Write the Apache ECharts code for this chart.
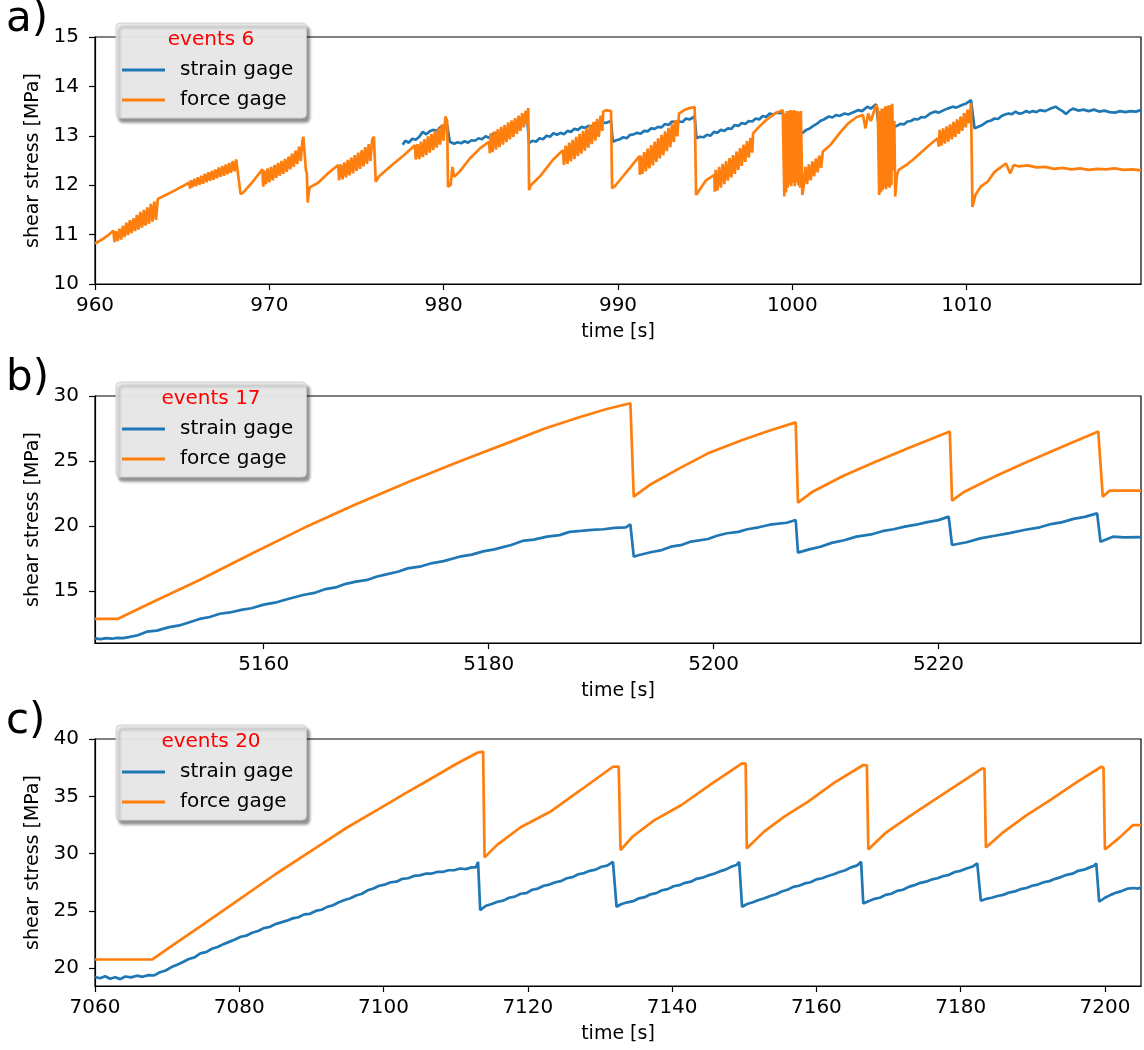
<!DOCTYPE html>
<html>
<head>
<meta charset="utf-8">
<title>shear stress</title>
<script src="https://cdn.jsdelivr.net/npm/echarts@6/dist/echarts.min.js"></script>
<style>
  html, body { margin: 0; padding: 0; background: #fff; }
  #chart { width: 1144px; height: 1050px; }
</style>
</head>
<body>
<div id="chart"></div>
<script>
// ---- panel a: time [s], shear stress [MPa] ----
const strainA = [
  [977.65,12.82],[977.8,12.9],[978.0,12.86],[978.2,12.94],[978.4,12.92],[978.6,12.98],[978.8,13.08],[979.0,13.03],[979.2,13.09],[979.4,13.12],[979.6,13.1],[979.8,13.17],[980.0,13.2],[980.2,13.22],
  [980.35,12.88],[980.6,12.84],[980.8,12.87],[981.0,12.85],[981.2,12.89],[981.4,12.86],[981.6,12.91],[981.8,12.9],[982.0,12.95],[982.2,12.93],[982.4,12.99],[982.6,12.96],[982.8,13.03],[983.0,13.05],
  [983.2,13.04],[983.4,13.1],[983.6,13.09],[983.8,13.15],[984.0,13.14],[984.2,13.2],[984.4,13.22],[984.6,13.27],[984.8,13.3],
  [984.9,12.85],[985.1,12.9],[985.3,12.88],[985.5,12.95],[985.7,12.93],[985.9,13.0],[986.1,12.98],[986.3,13.05],[986.5,13.02],[986.7,13.06],[986.9,13.03],[987.1,13.1],[987.3,13.08],[987.5,13.14],
  [987.7,13.12],[987.9,13.18],[988.1,13.16],[988.3,13.2],[988.5,13.19],[988.7,13.25],[988.9,13.22],[989.1,13.27],[989.3,13.26],[989.6,13.3],
  [989.7,12.88],[989.9,12.91],[990.1,12.93],[990.3,12.97],[990.5,12.95],[990.7,13.02],[990.9,13.03],[991.1,13.06],[991.3,13.04],[991.5,13.1],[991.7,13.09],[991.9,13.15],[992.1,13.14],[992.3,13.18],
  [992.5,13.17],[992.7,13.24],[992.9,13.22],[993.1,13.29],[993.3,13.27],[993.5,13.29],[993.7,13.28],[993.9,13.35],[994.1,13.33],[994.4,13.39],
  [994.5,12.95],[994.7,12.98],[994.9,12.97],[995.1,13.02],[995.3,13.0],[995.5,13.08],[995.7,13.06],[995.9,13.12],[996.1,13.1],[996.3,13.15],[996.5,13.14],[996.7,13.22],[996.9,13.2],[997.1,13.26],
  [997.3,13.24],[997.5,13.3],[997.7,13.29],[997.9,13.35],[998.1,13.33],[998.3,13.4],[998.5,13.38],[998.7,13.45],[998.9,13.43],[999.1,13.47],[999.3,13.46],[999.45,13.49],
  [999.6,13.02],[999.8,13.0],[1000.0,13.03],[1000.2,13.01],[1000.4,13.08],[1000.6,13.06],[1000.8,13.12],[1001.0,13.15],[1001.2,13.2],[1001.4,13.24],[1001.6,13.3],[1001.8,13.33],[1002.1,13.39],
  [1002.3,13.37],[1002.5,13.42],[1002.7,13.4],[1003.0,13.45],[1003.2,13.43],[1003.4,13.46],[1003.6,13.49],[1003.8,13.52],[1004.0,13.5],[1004.3,13.59],[1004.5,13.55],[1004.6,13.57],[1004.8,13.64],
  [1005.0,13.05],[1005.2,13.1],[1005.4,13.13],[1005.6,13.15],[1005.8,13.19],[1006.0,13.2],[1006.2,13.24],[1006.4,13.23],[1006.6,13.29],[1006.8,13.3],[1007.0,13.34],[1007.2,13.33],[1007.4,13.38],
  [1007.6,13.37],[1007.9,13.45],[1008.2,13.49],[1008.4,13.47],[1008.7,13.52],[1008.9,13.55],[1009.2,13.59],[1009.4,13.57],[1009.7,13.62],[1010.0,13.66],[1010.25,13.72],
  [1010.45,13.15],[1010.7,13.19],[1010.9,13.22],[1011.2,13.29],[1011.4,13.31],[1011.6,13.35],[1011.8,13.34],[1012.0,13.4],[1012.2,13.43],[1012.4,13.45],[1012.6,13.44],[1012.8,13.49],[1013.0,13.45],
  [1013.2,13.46],[1013.4,13.5],[1013.6,13.47],[1013.8,13.5],[1014.0,13.48],[1014.2,13.52],[1014.5,13.5],[1014.8,13.55],[1015.1,13.59],[1015.3,13.54],[1015.5,13.5],[1015.7,13.44],[1015.9,13.51],
  [1016.1,13.55],[1016.4,13.51],[1016.7,13.53],[1017.0,13.5],[1017.3,13.53],[1017.6,13.49],[1017.9,13.51],[1018.2,13.48],[1018.5,13.47],[1018.8,13.5],[1019.1,13.48],[1019.4,13.5],[1019.7,13.49],[1020,13.52]
];
const forceA = [
  [960,10.82],[960.4,10.9],[960.8,11.0],[961.05,11.08],[961.12,10.85],
  [961.2,11.07],[961.3,10.87],[961.4,11.12],[961.5,10.9],[961.6,11.18],[961.7,10.95],[961.8,11.24],[961.9,10.99],[962.0,11.29],[962.1,11.03],[962.2,11.33],[962.3,11.07],
  [962.4,11.4],[962.5,11.1],[962.6,11.46],[962.7,11.14],[962.8,11.5],[962.9,11.18],[963.0,11.55],[963.1,11.22],[963.2,11.62],[963.3,11.26],[963.4,11.67],[963.5,11.3],[963.6,11.72],
  [963.7,11.72],[964.5,11.88],[965.4,12.05],[965.45,11.93],
  [965.5,12.1],[965.6,11.96],[965.7,12.13],[965.8,11.98],[965.9,12.16],[966.0,12.01],[966.1,12.19],[966.2,12.03],[966.3,12.23],[966.4,12.06],[966.5,12.26],[966.6,12.09],[966.7,12.29],
  [966.8,12.11],[966.9,12.32],[967.0,12.14],[967.1,12.36],[967.2,12.17],[967.3,12.39],[967.4,12.19],[967.5,12.42],[967.6,12.22],[967.7,12.45],[967.8,12.25],[967.9,12.49],[968.0,12.28],
  [968.1,12.52],[968.2,12.48],
  [968.35,11.82],[968.5,11.85],[969.0,12.05],[969.6,12.32],[969.65,11.97],
  [969.7,12.3],[969.8,12.02],[969.9,12.34],[970.0,12.06],[970.1,12.37],[970.2,12.1],[970.3,12.41],[970.4,12.15],[970.5,12.45],[970.6,12.19],[970.7,12.49],[970.8,12.23],
  [970.9,12.53],[971.0,12.27],[971.1,12.58],[971.2,12.32],[971.3,12.64],[971.4,12.37],[971.5,12.7],[971.6,12.43],[971.7,12.78],[971.8,12.49],[971.9,12.9],[971.95,12.98],
  [972.1,12.3],[972.15,12.25],[972.2,11.65],[972.3,11.95],[972.8,12.05],[973.4,12.25],[973.95,12.41],[974.0,12.1],
  [974.1,12.42],[974.2,12.12],[974.3,12.46],[974.4,12.16],[974.5,12.51],[974.6,12.2],[974.7,12.56],[974.8,12.24],[974.9,12.61],[975.0,12.29],[975.1,12.66],[975.2,12.33],
  [975.3,12.71],[975.4,12.38],[975.5,12.77],[975.6,12.43],[975.7,12.83],[975.8,12.49],[975.9,12.92],[976.0,12.98],
  [976.1,12.07],[976.3,12.18],[977.0,12.4],[977.7,12.6],[978.35,12.81],[978.4,12.52],
  [978.5,12.83],[978.6,12.53],[978.7,12.88],[978.8,12.57],[978.9,12.93],[979.0,12.61],[979.1,12.99],[979.2,12.66],[979.3,13.04],[979.4,12.71],[979.5,13.1],[979.6,12.76],
  [979.7,13.16],[979.8,12.82],[979.9,13.23],[980.0,12.9],[980.1,13.39],[980.2,13.3],
  [980.25,11.97],[980.4,12.0],[980.5,12.37],[980.6,12.17],[980.9,12.27],[981.5,12.54],[982.1,12.75],[982.6,12.88],[982.65,12.65],
  [982.7,13.05],[982.8,12.67],[982.9,13.09],[983.0,12.72],[983.1,13.13],[983.2,12.77],[983.3,13.18],[983.4,12.82],[983.5,13.22],[983.6,12.87],[983.7,13.27],[983.8,12.93],
  [983.9,13.31],[984.0,12.98],[984.1,13.36],[984.2,13.04],[984.3,13.41],[984.4,13.1],[984.5,13.46],[984.6,13.17],[984.7,13.51],[984.8,13.25],[984.85,13.56],
  [984.9,11.9],[985.0,12.0],[985.5,12.17],[986.26,12.51],[986.84,12.71],[986.9,12.41],
  [987.0,12.8],[987.1,12.43],[987.2,12.86],[987.3,12.48],[987.4,12.92],[987.5,12.53],[987.6,12.98],[987.7,12.59],[987.8,13.04],[987.9,12.64],[988.0,13.1],[988.1,12.7],
  [988.2,13.16],[988.3,12.76],[988.4,13.22],[988.5,12.83],[988.6,13.28],[988.7,12.9],[988.8,13.34],[988.9,12.98],[989.0,13.41],[989.1,13.1],[989.15,13.49],[989.3,13.52],[989.6,13.5],
  [989.66,11.94],[989.8,11.97],[990.1,12.1],[990.66,12.34],[991.23,12.59],[991.25,12.21],
  [991.3,12.6],[991.4,12.23],[991.5,12.67],[991.6,12.28],[991.7,12.74],[991.8,12.34],[991.9,12.81],[992.0,12.4],[992.1,12.88],[992.2,12.47],[992.3,12.95],[992.4,12.54],
  [992.5,13.02],[992.6,12.61],[992.7,13.09],[992.8,12.69],[992.9,13.16],[993.0,12.77],[993.1,13.24],[993.2,12.87],[993.3,13.32],[993.4,12.99],[993.5,13.45],
  [993.8,13.52],[994.1,13.56],[994.4,13.58],
  [994.48,11.8],[994.57,11.84],[995.05,12.1],[995.53,12.21],[995.55,11.87],
  [995.6,12.31],[995.7,11.89],[995.8,12.37],[995.9,11.95],[996.0,12.43],[996.1,12.02],[996.2,12.49],[996.3,12.09],[996.4,12.55],[996.5,12.16],[996.6,12.61],[996.7,12.23],
  [996.8,12.68],[996.9,12.31],[997.0,12.75],[997.1,12.39],[997.2,12.82],[997.3,12.47],[997.4,12.89],[997.5,12.56],[997.6,12.96],[997.7,12.66],[997.75,13.05],
  [998.0,13.15],[998.5,13.32],[999.0,13.45],[999.45,13.52],
  [999.54,11.77],[999.59,13.45],[999.64,11.85],[999.69,13.5],[999.74,11.95],[999.79,13.5],[999.84,12.02],[999.89,13.52],[999.94,11.98],[999.99,13.5],[1000.04,12.05],[1000.09,13.52],
  [1000.14,11.98],[1000.19,13.5],[1000.24,12.06],[1000.29,13.5],[1000.34,12.0],[1000.39,13.48],[1000.44,11.95],[1000.49,13.5],[1000.57,11.8],
  [1000.65,11.97],[1000.75,12.37],[1000.85,12.02],[1000.95,12.42],[1001.05,12.1],[1001.15,12.48],[1001.25,12.18],[1001.35,12.54],[1001.45,12.26],[1001.55,12.6],[1001.65,12.35],[1001.75,12.68],[1001.85,12.65],
  [1002.2,12.82],[1002.7,13.05],[1003.2,13.25],[1003.7,13.38],[1004.05,13.42],
  [1004.2,13.15],[1004.35,13.45],[1004.5,13.3],[1004.8,13.62],[1004.9,13.55],
  [1004.98,11.8],[1005.03,13.5],[1005.08,11.85],[1005.13,13.55],[1005.18,11.9],[1005.23,13.55],[1005.28,11.95],[1005.33,13.6],[1005.38,11.92],[1005.43,13.6],[1005.48,11.98],
  [1005.53,13.62],[1005.58,11.95],[1005.63,13.62],[1005.68,12.0],[1005.73,13.65],[1005.8,12.3],[1005.85,13.3],[1005.9,11.77],
  [1006.0,12.2],[1006.1,12.31],[1006.5,12.4],[1006.9,12.51],[1007.85,12.81],[1008.33,12.95],[1008.4,12.78],
  [1008.45,13.12],[1008.55,12.8],[1008.65,13.15],[1008.75,12.84],[1008.85,13.19],[1008.95,12.88],[1009.05,13.23],[1009.15,12.93],[1009.25,13.28],[1009.35,12.98],
  [1009.45,13.33],[1009.55,13.04],[1009.65,13.39],[1009.75,13.1],[1009.85,13.46],[1009.95,13.17],[1010.05,13.53],[1010.15,13.25],[1010.25,13.66],
  [1010.33,11.56],[1010.5,11.8],[1010.8,11.97],[1011.2,12.07],[1011.6,12.27],[1012.25,12.44],[1012.5,12.24],[1012.7,12.41],[1013.0,12.38],[1013.5,12.4],[1014.0,12.36],[1014.5,12.37],
  [1015.0,12.33],[1015.5,12.35],[1016.0,12.32],[1016.5,12.34],[1017.0,12.31],[1017.5,12.33],[1018.0,12.32],[1018.5,12.34],[1019.0,12.31],[1019.5,12.32],[1020,12.3]
];

// ---- panel b ----
const strainB = [
  [5145,11.36],[5145.5,11.3],[5146,11.38],[5146.5,11.33],[5147,11.4],[5147.5,11.37],[5148,11.45],[5148.8,11.6],[5149.6,11.87],[5150.5,11.95],[5151.5,12.2],[5152.5,12.35],[5153.4,12.6],[5154.3,12.85],
  [5155.2,13.0],[5156.1,13.25],[5157,13.35],[5158,13.55],[5158.9,13.67],[5160,13.95],[5161,14.1],[5162,14.35],[5163.5,14.69],[5164.5,14.85],[5165.5,15.15],[5166.5,15.3],[5167.3,15.55],[5168.2,15.72],
  [5169.2,15.85],[5170,16.1],[5171,16.3],[5172,16.5],[5172.8,16.74],[5174,16.9],[5175,17.15],[5176,17.3],[5177.4,17.64],[5178.5,17.8],[5179.5,18.05],[5180.5,18.2],[5182,18.54],[5183,18.85],
  [5184,18.95],[5185.2,19.18],[5186.3,19.3],[5187.2,19.55],[5188.2,19.62],[5189.2,19.7],[5190.2,19.75],[5191.2,19.85],[5192.2,19.9],[5192.6,20.13],
  [5192.9,17.64],[5193.3,17.75],[5194.5,18.0],[5195.4,18.15],[5196.2,18.41],[5197.2,18.55],[5198,18.8],[5199.5,19.0],[5200.3,19.25],[5201.2,19.44],[5202.2,19.55],[5203,19.75],[5204,19.9],[5205,20.1],[5206.5,20.25],[5207.3,20.46],
  [5207.5,17.95],[5208.5,18.2],[5209.5,18.4],[5210.5,18.7],[5211.6,18.9],[5212.7,19.18],[5214,19.35],[5215,19.6],[5216,19.75],[5217,19.95],[5218,20.1],[5219,20.3],[5220,20.45],[5220.9,20.72],
  [5221.2,18.54],[5222.5,18.75],[5223.7,19.05],[5225,19.25],[5226.3,19.45],[5227.6,19.69],[5229,19.9],[5230,20.15],[5231,20.3],[5232,20.55],[5233,20.7],[5234.1,20.97],
  [5234.4,18.79],[5235.5,19.18],[5236.5,19.12],[5238,19.15]
];
const forceB = [
  [5145,12.85],[5147,12.85],[5150,14.1],[5154.3,15.85],[5159,17.9],[5163.5,19.82],[5168,21.6],[5172.8,23.36],[5177.5,25.0],[5182,26.49],[5185,27.5],[5188.2,28.41],[5190.5,29.0],[5192.6,29.44],
  [5192.9,22.26],[5194.3,23.15],[5197,24.45],[5199.5,25.59],[5202.5,26.6],[5205,27.35],[5207.3,27.97],
  [5207.5,21.8],[5208.8,22.64],[5211.5,23.85],[5214.4,24.95],[5217.5,26.05],[5221.0,27.26],
  [5221.2,21.95],[5222.3,22.64],[5225,23.8],[5227.6,24.82],[5231,26.1],[5234.2,27.26],
  [5234.6,22.26],[5235.2,22.72],[5238,22.72]
];

// ---- panel c ----
const strainC = [
  [7060,19.24],[7060.7,19.12],[7061.4,19.3],[7062.1,19.08],[7062.8,19.22],[7063.5,19.05],[7064.2,19.28],[7065,19.2],[7065.8,19.35],[7066.6,19.25],[7067.4,19.4],[7068.2,19.38],[7069,19.65],
  [7069.8,19.8],[7070.6,20.1],[7071.4,20.3],[7072.2,20.55],[7073,20.8],[7073.8,20.95],[7074.6,21.3],[7075.4,21.4],[7076.2,21.7],[7077,21.85],[7077.8,22.1],[7078.6,22.3],[7079.4,22.5],
  [7080.2,22.75],[7081,22.85],[7081.8,23.1],[7082.6,23.25],[7083.4,23.5],[7084.2,23.6],[7085,23.85],[7085.8,24.0],[7086.6,24.15],[7087.4,24.35],[7088.2,24.45],[7089,24.7],[7089.8,24.75],
  [7090.6,25.0],[7091.4,25.1],[7092.2,25.35],[7093,25.5],[7093.8,25.75],[7094.6,25.95],[7095.4,26.1],[7096.2,26.35],[7097,26.5],[7097.8,26.8],[7098.6,26.95],[7099.4,27.2],[7100.2,27.3],
  [7101,27.5],[7101.8,27.55],[7102.6,27.8],[7103.4,27.85],[7104.2,28.05],[7105,28.1],[7105.8,28.25],[7106.6,28.25],[7107.4,28.4],[7108.2,28.4],[7109,28.55],[7109.8,28.55],[7110.6,28.7],
  [7111.4,28.65],[7112.2,28.8],[7112.8,28.8],[7113.1,29.28],
  [7113.4,25.07],[7114.2,25.45],[7115,25.6],[7115.8,25.8],[7116.6,25.9],[7117.4,26.15],[7118.2,26.25],[7119,26.5],[7119.8,26.55],[7120.6,26.85],[7121.4,26.95],[7122.2,27.2],[7123,27.3],
  [7123.8,27.5],[7124.6,27.6],[7125.4,27.85],[7126.2,27.95],[7127,28.2],[7127.8,28.3],[7128.6,28.5],[7129.4,28.6],[7130.2,28.85],[7131,28.95],[7131.8,29.28],
  [7132.3,25.36],[7133,25.6],[7133.8,25.75],[7134.6,25.85],[7135.4,26.1],[7136.2,26.2],[7137,26.45],[7137.8,26.55],[7138.6,26.8],[7139.4,26.9],[7140.2,27.15],[7141,27.25],[7141.8,27.45],
  [7142.6,27.55],[7143.4,27.8],[7144.2,27.9],[7145,28.1],[7145.8,28.25],[7146.6,28.45],[7147.4,28.6],[7148.2,28.85],[7148.9,29.0],[7149.3,29.28],
  [7149.7,25.36],[7150.4,25.6],[7151.2,25.75],[7152,25.95],[7152.8,26.1],[7153.6,26.3],[7154.4,26.45],[7155.2,26.7],[7156,26.85],[7156.8,27.1],[7157.6,27.2],[7158.4,27.4],[7159.2,27.5],
  [7160,27.75],[7160.8,27.85],[7161.6,28.05],[7162.4,28.2],[7163.2,28.4],[7164,28.55],[7164.8,28.8],[7165.6,28.95],[7166.2,29.28],
  [7166.5,25.65],[7167.2,25.85],[7168,26.05],[7168.8,26.15],[7169.6,26.4],[7170.4,26.5],[7171.2,26.75],[7172,26.85],[7172.8,27.1],[7173.6,27.25],[7174.4,27.45],[7175.2,27.55],[7176,27.75],
  [7176.8,27.85],[7177.6,28.05],[7178.4,28.15],[7179.2,28.4],[7180,28.5],[7180.8,28.7],[7181.6,28.85],[7182.3,29.14],
  [7182.8,25.88],[7183.5,26.05],[7184.3,26.15],[7185.1,26.3],[7185.9,26.4],[7186.7,26.6],[7187.5,26.7],[7188.3,26.9],[7189.1,27.0],[7189.9,27.2],[7190.7,27.3],[7191.5,27.5],[7192.3,27.6],
  [7193.1,27.8],[7193.9,27.95],[7194.7,28.15],[7195.5,28.25],[7196.3,28.5],[7197.1,28.6],[7197.9,28.8],[7198.5,28.95],[7198.8,29.14],
  [7199.2,25.8],[7200,26.15],[7200.8,26.4],[7201.6,26.6],[7202.4,26.75],[7203.2,26.95],[7204,27.0],[7204.6,26.95],[7205,27.05]
];
const forceC = [
  [7060,20.76],[7064,20.76],[7067.9,20.76],[7071,22.1],[7074.5,23.6],[7080,26.0],[7085,28.2],[7091.2,30.74],[7095,32.3],[7099.5,33.95],[7103,35.25],[7106.2,36.4],[7110,37.8],[7113,38.8],[7113.8,38.9],
  [7114.0,29.67],[7115.7,30.74],[7119,32.3],[7123.1,33.65],[7127,35.4],[7131.8,37.58],[7132.6,37.6],
  [7132.85,30.31],[7134.5,31.47],[7137.5,32.9],[7141.3,34.24],[7145.5,36.1],[7149.7,37.87],[7150.2,37.85],
  [7150.35,30.45],[7152.7,31.9],[7155.5,33.2],[7158.8,34.52],[7162.5,36.2],[7166.5,37.73],[7167.0,37.7],
  [7167.2,30.36],[7169.5,31.76],[7173,33.3],[7176.3,34.67],[7180,36.2],[7183.0,37.44],[7183.3,37.4],
  [7183.5,30.54],[7185.7,31.76],[7189,33.3],[7192.4,34.67],[7196,36.2],[7199.5,37.58],[7199.8,37.5],
  [7200.0,30.36],[7201.9,31.33],[7203.9,32.49],[7205,32.49]
];

// tick positions / labels
const xTicksA = [960, 970, 980, 990, 1000, 1010];
const xTicksB = [5160, 5180, 5200, 5220];
const xTicksC = [7060, 7080, 7100, 7120, 7140, 7160, 7180, 7200];
const yTicksA = [10, 11, 12, 13, 14, 15];
const yTicksB = [15, 20, 25, 30];
const yTicksC = [20, 25, 30, 35, 40];

const panelLabels = ['a)', 'b)', 'c)'];
const eventLabels = ['events 6', 'events 17', 'events 20'];
const seriesNames = ['strain gage', 'force gage'];

const FONT = '"DejaVu Sans", "Liberation Sans", sans-serif';
const BLUE = '#1f77b4';
const ORANGE = '#ff7f0e';

const gridTops = [37, 396, 739];
const GRID_LEFT = 95, GRID_W = 1046, GRID_H = 247;

const xRanges = [[960, 1020], [5145, 5238], [7060, 7205]];
const yRanges = [[10, 15], [11, 30], [18.45, 40]];
const xTicks = [xTicksA, xTicksB, xTicksC];
const yTicks = [yTicksA, yTicksB, yTicksC];
const dataSets = [[strainA, forceA], [strainB, forceB], [strainC, forceC]];

const plain = v => String(v);
const grids = [], xAxes = [], yAxes = [], series = [], legends = [], titles = [];

for (let i = 0; i < 3; i++) {
  const top = gridTops[i];
  grids.push({
    left: GRID_LEFT, top: top, width: GRID_W, height: GRID_H,
    show: true, borderColor: '#000', borderWidth: 1.2, backgroundColor: 'transparent'
  });
  xAxes.push({
    type: 'value', gridIndex: i, min: xRanges[i][0], max: xRanges[i][1],
    name: 'time [s]', nameLocation: 'middle', nameGap: 39,
    nameTextStyle: { fontFamily: FONT, fontSize: 19, color: '#000' },
    axisLine: { show: true, lineStyle: { color: '#000', width: 1.2 } },
    axisTick: { show: true, length: 6, inside: false, customValues: xTicks[i], lineStyle: { color: '#000', width: 1.2 } },
    axisLabel: { show: true, customValues: xTicks[i], formatter: plain, margin: 12, fontFamily: FONT, fontSize: 20, color: '#000' },
    splitLine: { show: false }
  });
  yAxes.push({
    type: 'value', gridIndex: i, min: yRanges[i][0], max: yRanges[i][1],
    name: 'shear stress [MPa]', nameLocation: 'middle', nameGap: 50, nameRotate: 90,
    nameTextStyle: { fontFamily: FONT, fontSize: 19, color: '#000' },
    axisLine: { show: true, lineStyle: { color: '#000', width: 1.2 } },
    axisTick: { show: true, length: 6, inside: false, customValues: yTicks[i], lineStyle: { color: '#000', width: 1.2 } },
    axisLabel: { show: true, customValues: yTicks[i], formatter: plain, margin: 16, fontFamily: FONT, fontSize: 20, color: '#000' },
    splitLine: { show: false }
  });
  const [strain, force] = dataSets[i];
  series.push({
    name: seriesNames[0], type: 'line', xAxisIndex: i, yAxisIndex: i, data: strain,
    showSymbol: false, symbol: 'none', lineStyle: { color: BLUE, width: 2.7 }, itemStyle: { color: BLUE },
    clip: true, z: 2
  });
  series.push({
    name: seriesNames[1], type: 'line', xAxisIndex: i, yAxisIndex: i, data: force,
    showSymbol: false, symbol: 'none', lineStyle: { color: ORANGE, width: 2.7 }, itemStyle: { color: ORANGE },
    clip: true, z: 3
  });
  const boxTop = top - 14;
  legends.push({
    data: seriesNames, orient: 'vertical', left: 116, top: boxTop,
    selectedMode: false, icon: 'rect', itemWidth: 43, itemHeight: 3, itemGap: 8,
    padding: [36, 13, 7, 6],
    backgroundColor: 'rgba(236,236,236,0.95)', borderColor: '#d0d0d0', borderWidth: 1, borderRadius: 4,
    shadowColor: 'rgba(0,0,0,0.45)', shadowBlur: 3, shadowOffsetX: 3, shadowOffsetY: 4,
    textStyle: { fontFamily: FONT, fontSize: 20, color: '#000', lineHeight: 22, padding: [0, 0, 0, 10] },
    z: 10
  });
  titles.push({
    text: eventLabels[i], left: 211, top: boxTop + 7, textAlign: 'center', padding: 0,
    textStyle: { fontFamily: FONT, fontSize: 20, fontWeight: 'normal', color: '#ff0000' }, z: 11
  });
  titles.push({
    text: panelLabels[i], left: 6, top: top - 38, padding: 0,
    textStyle: { fontFamily: FONT, fontSize: 42, fontWeight: 'normal', color: '#000' }
  });
}

const chart = echarts.init(document.getElementById('chart'), null, { renderer: 'canvas' });
chart.setOption({
  animation: false,
  backgroundColor: '#fff',
  title: titles,
  legend: legends,
  grid: grids,
  xAxis: xAxes,
  yAxis: yAxes,
  series: series
});
</script>
</body>
</html>
